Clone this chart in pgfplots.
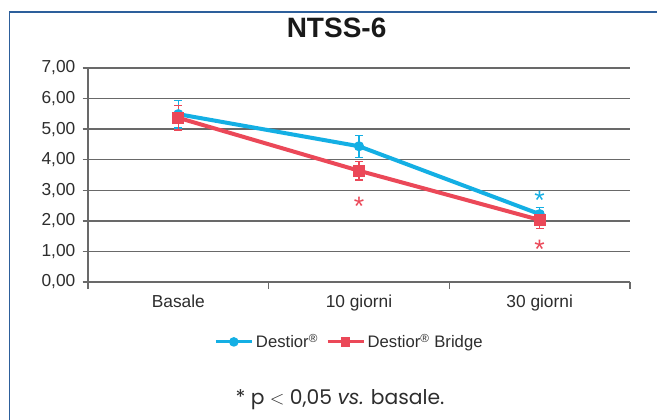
\documentclass[border=0pt]{standalone}
\usepackage{pgfplots}
\pgfplotsset{compat=1.18}
\usepackage{fontspec}
\setmainfont{Liberation Sans}
\newfontfamily\footfont{Poppins}
\definecolor{cblue}{RGB}{20,175,228}
\definecolor{cred}{RGB}{235,72,88}
\definecolor{frame}{RGB}{45,95,155}
\definecolor{gridc}{RGB}{105,105,105}
\definecolor{txt}{RGB}{45,45,45}
\begin{document}
\begin{tikzpicture}
\clip (0,0) rectangle (492.75pt,315pt);
\fill[white] (0,0) rectangle (492.75pt,315pt);
\draw[frame, line width=1.2pt] (7.1pt,-20pt) -- (7.1pt,306pt) -- (520pt,306pt);
\node[font=\fontsize{21}{24}\selectfont\bfseries, text=black!90] at (252.4pt,294.4pt) {NTSS-6};
\begin{axis}[
  at={(66pt,103.5pt)}, anchor=south west,
  scale only axis, width=406.5pt, height=160.5pt,
  xmin=-0.5, xmax=2.5, ymin=0, ymax=7,
  axis x line=bottom, axis y line=left,
  axis line style={gridc, line width=1pt, -},
  xtick={0,1,2}, xticklabels={Basale,10 giorni,30 giorni},
  minor xtick={-0.5,0.5,1.5,2.5},
  ytick={0,1,...,7},
  yticklabel={\pgfmathprintnumber[fixed,fixed zerofill,precision=2,use comma]{\tick}},
  /pgf/number format/assume math mode=true,
  ymajorgrids, grid style={gridc, line width=1pt},
  major x tick style={draw=none},
  minor x tick style={gridc, line width=1pt},
  major y tick style={gridc, line width=1pt},
  tick align=outside,
  major tick length=4pt, minor tick length=5pt,
  ticklabel style={font=\fontsize{13}{15}\selectfont, text=txt},
  xticklabel style={yshift=-2pt},
  yticklabel style={xshift=-2pt},
  legend style={at={(0.483,-0.28)}, anchor=center, draw=none, fill=none,
    legend columns=2, font=\fontsize{12.5}{14}\selectfont, text=txt,
    /tikz/every even column/.append style={column sep=4pt}},
  legend image code/.code={
    \draw[#1, line width=2.2pt] (-0.1cm,0cm) -- (0.85cm,0cm);
    \draw[#1, mark repeat=1, only marks, mark size=2pt] plot coordinates {(0.375cm,0cm)};},
  clip=false,
]
\addplot[cblue, line width=3pt, mark=*, mark size=2.2pt,
  error bars/.cd, y dir=both, y explicit,
  error bar style={line width=1pt, cblue}, error mark options={rotate=90, mark size=3pt, line width=1pt, cblue}]
  coordinates {(0,5.49) +- (0,0.45) (1,4.44) +- (0,0.36) (2,2.22) +- (0,0.22)};
\addlegendentry{Destior\textsuperscript{\textregistered}}
\addplot[cred, line width=3pt, mark=square*, mark size=2.9pt,
  error bars/.cd, y dir=both, y explicit,
  error bar style={line width=1pt, cred}, error mark options={rotate=90, mark size=3pt, line width=1pt, cred}]
  coordinates {(0,5.37) +- (0,0.40) (1,3.64) +- (0,0.30) (2,2.03) +- (0,0.27)};
\addlegendentry{Destior\textsuperscript{\textregistered} Bridge}
\addplot[draw=none, mark=none, forget plot, nodes near coords={*},
  every node near coord/.append style={anchor=center, text=cblue, font=\fontsize{20}{20}\selectfont, yshift=-4pt}]
  coordinates {(2,2.84)};
\addplot[draw=none, mark=none, forget plot, nodes near coords={*},
  every node near coord/.append style={anchor=center, text=cred, font=\fontsize{20}{20}\selectfont, yshift=-4pt}]
  coordinates {(1,2.66) (2,1.24)};
\end{axis}
\node[font=\footfont\fontsize{15.2}{17}\selectfont, text=txt] at (255pt,15pt) {* p $<$ 0,05 {\itshape vs.} basale.};
\end{tikzpicture}
\end{document}
